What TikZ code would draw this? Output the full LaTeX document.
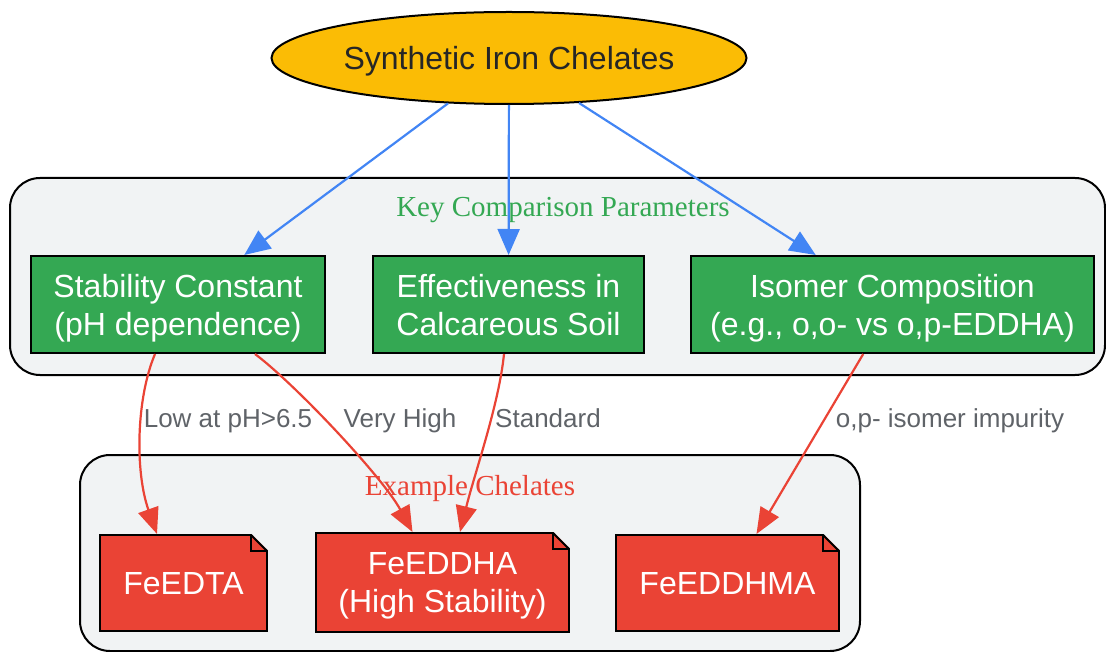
\documentclass[tikz,border=0pt]{standalone}
\usepackage{fontspec}
\setmainfont{Liberation Serif}
\setsansfont{Liberation Sans}
\usetikzlibrary{shapes.geometric,arrows.meta}
\definecolor{gyellow}{HTML}{FBBC05}
\definecolor{ggreen}{HTML}{34A853}
\definecolor{gred}{HTML}{EA4335}
\definecolor{gblue}{HTML}{4285F4}
\definecolor{gfill}{HTML}{F1F3F4}
\definecolor{ggray}{HTML}{5F6368}
\tikzset{chart/.style={x=1pt,y=-1pt},
	cluster/.style={draw=black, line width=2pt, fill=gfill, rounded corners=30pt},
	clabel/.style={text depth=0pt, font=\fontsize{29}{33}\selectfont},
	rootnode/.style={ellipse, draw=black, line width=2pt, fill=gyellow, inner sep=0pt, minimum width=475pt, minimum height=92pt, text depth=0pt, font=\sffamily\fontsize{32}{38}\selectfont, text=black!85},
	param/.style={draw=black, line width=2pt, fill=ggreen, text=white, inner sep=0pt, minimum height=97pt, align=center, text depth=0pt, font=\sffamily\fontsize{32}{38}\selectfont},
	chelnote/.style={draw=black, line width=2pt, fill=gred, text=white, inner sep=0pt, minimum height=96pt, align=center, text depth=0pt, font=\sffamily\fontsize{32}{38}\selectfont},
	elabel/.style={text=ggray, text depth=0pt, font=\sffamily\fontsize{26}{30}\selectfont},
	blueedge/.style={draw=gblue, line width=2.2pt, -{Triangle[length=26pt,width=22pt]}},
	rededge/.style={draw=gred, line width=2.2pt, -{Triangle[length=26pt,width=21pt]}}}
\begin{document}
\begin{tikzpicture}[chart]
	\useasboundingbox (0,0) rectangle (1106,652);
	\draw[cluster] (10,178) rectangle (1105,375); % parametres
	\node[clabel, text=ggreen] (ktitle) at (563,207) {Key Comparison Parameters};
	\draw[cluster] (80,455) rectangle (860,651); % exemples
	\node[clabel, text=gred] (etitle) at (470,485) {Example Chelates};
	\node[rootnode] (root) at (509,58) {Synthetic Iron Chelates};
	\node[param, minimum width=294pt] (stab) at (178,304.5) {Stability Constant\\(pH dependence)};
	\node[param, minimum width=271pt] (eff) at (508.5,304.5) {Effectiveness in\\Calcareous Soil};
	\node[param, minimum width=403pt] (iso) at (892.5,304.5) {Isomer Composition\\(e.g., o,o- vs o,p-EDDHA)};
	\node[chelnote, minimum width=167pt] (edta) at (183.5,583) {FeEDTA};
	\node[chelnote, minimum width=253pt, minimum height=99pt] (eddha) at (442.5,582.5) {FeEDDHA\\(High Stability)};
	\node[chelnote, minimum width=223pt] (eddhma) at (727.5,583) {FeEDDHMA};
	\foreach \n in {edta,eddha,eddhma} {
		\fill[gfill] ([xshift=-17pt,yshift=0.5pt]\n.north -| \n.east) -- ([xshift=0.5pt,yshift=0.5pt]\n.north -| \n.east) -- ([xshift=0.5pt,yshift=-17pt]\n.north -| \n.east) -- cycle; % coin
		\draw[line width=2pt, line join=bevel] ([xshift=-17pt,yshift=-1pt]\n.north -| \n.east) -- ([xshift=-1pt,yshift=-17pt]\n.north -| \n.east);
		\draw[line width=2pt] ([xshift=-17pt,yshift=-1pt]\n.north -| \n.east) |- ([xshift=-1pt,yshift=-17pt]\n.north -| \n.east);
	}
	\draw[blueedge] (root) -- (stab);
	\draw[blueedge] (root) -- (eff);
	\draw[blueedge] (root) -- (iso);
	\draw[rededge] ([xshift=-23pt]stab.south) .. controls +(-19,45) and +(-22,-62) .. ([xshift=-26.5pt]edta.north);
	\draw[rededge] ([xshift=77pt]stab.south) .. controls +(40,30) and +(-30,-55) .. ([xshift=-30pt]eddha.north);
	\draw[rededge] ([xshift=-4.5pt]eff.south) .. controls +(-5,50) and +(15,-60) .. ([xshift=17.5pt]eddha.north);
	\draw[rededge] (iso) -- (eddhma);
	\node[elabel] (l1) at (228,418) {Low at pH>6.5};
	\node[elabel] (l2) at (400,418) {Very High};
	\node[elabel] (l3) at (548,418) {Standard};
	\node[elabel] (l4) at (950,418) {o,p- isomer impurity};
\end{tikzpicture}
\end{document}
